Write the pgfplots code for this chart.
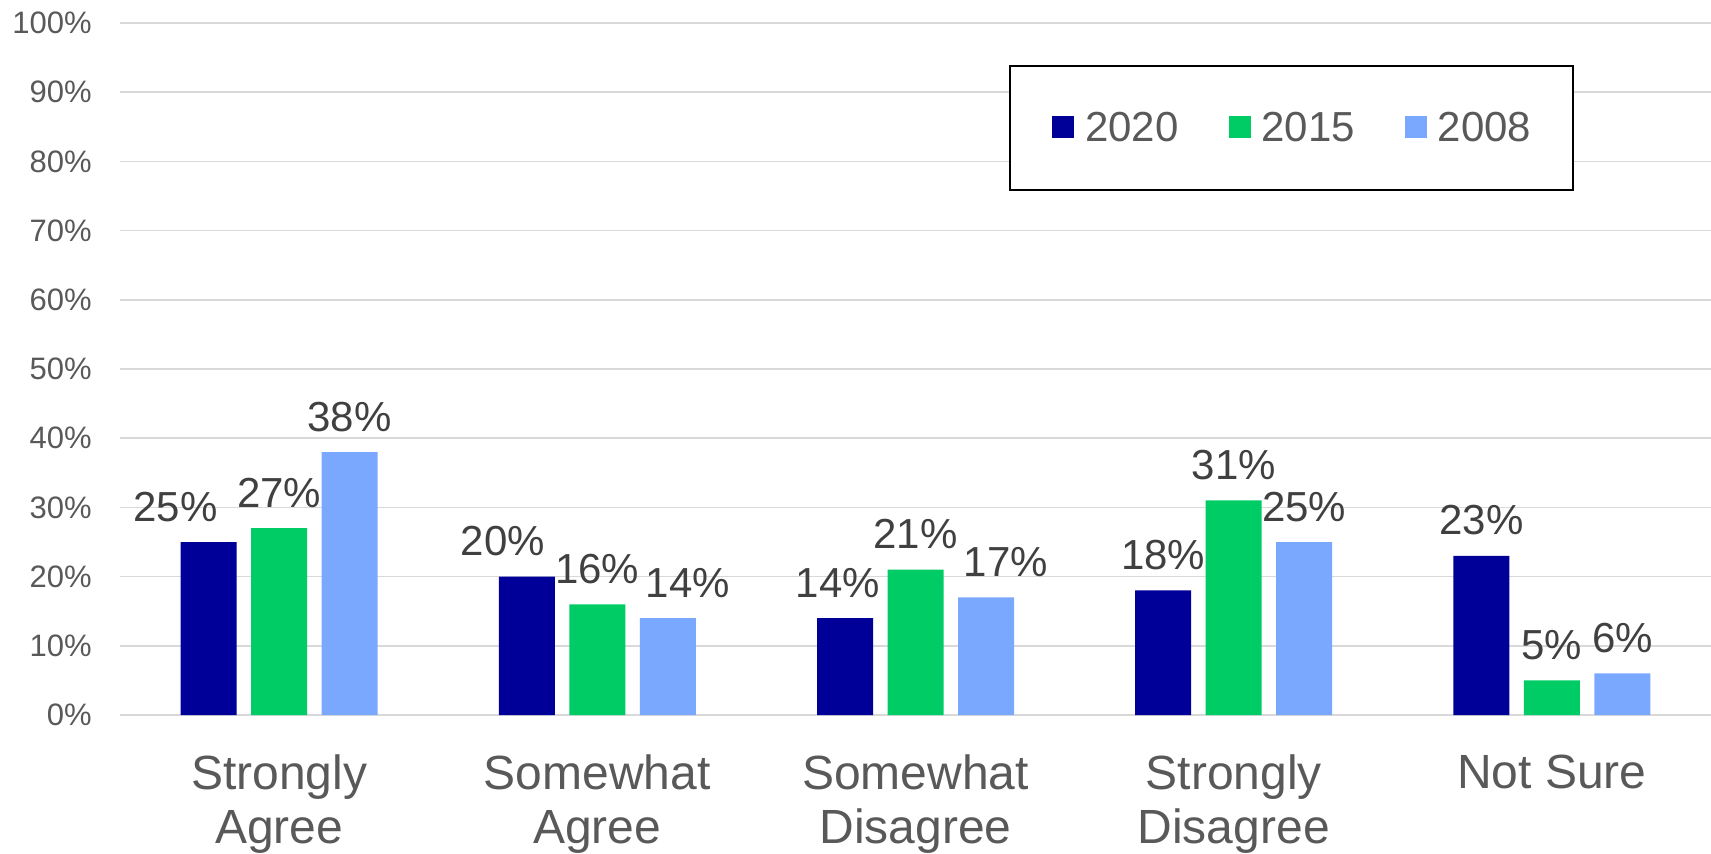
\documentclass[border=0pt]{standalone}
\usepackage{fontspec}
\setmainfont{Liberation Sans}
\usepackage{pgfplots}
\usepackage{pgfplotstable}
\pgfplotsset{compat=1.18}
\definecolor{c2020}{HTML}{000099}
\definecolor{c2015}{HTML}{00CC66}
\definecolor{c2008}{HTML}{7AA8FF}
\definecolor{tickgray}{HTML}{595959}
\definecolor{lblgray}{HTML}{404040}
\definecolor{gridgray}{HTML}{D9D9D9}
\pgfplotstableread{
x y2020 d2020 y2015 d2015 y2008 d2008
0 25 -16.5 27 0 38 0
1 20 -12 16 0 14 10
2 14 -3.5 21 0 17 10
3 18 0 31 0 25 0
4 23 0 5 0 6 0
}\data
\begin{document}
\begin{tikzpicture}
\begin{axis}[name=ax, scale only axis, width=795.5pt, height=346pt,
 xmin=-0.5, xmax=4.5, ymin=0, ymax=100,
 ybar=7.25pt, bar width=28pt,
 axis line style={draw=none},
 major tick length=0pt,
 ymajorgrids, grid style={gridgray, line width=0.75pt},
 ytick={0,10,...,100}, yticklabel={\pgfmathprintnumber{\tick}\%},
 xtick={0,...,4},
 xticklabels={{Strongly\\Agree},{Somewhat\\Agree},{Somewhat\\Disagree},{Strongly\\Disagree},{Not Sure}},
 /pgf/number format/assume math mode=true,
 yticklabel style={font=\fontsize{15.5}{18}\selectfont, text=tickgray, inner sep=0pt, xshift=-14pt},
 xticklabel style={font=\fontsize{24}{27}\selectfont, text=tickgray, align=center, inner sep=0pt, yshift=-19.8pt},
 nodes near coords={\pgfmathprintnumber{\pgfplotspointmeta}\%},
 every node near coord/.append style={font=\fontsize{21}{25}\selectfont, text=lblgray, anchor=base, yshift=10.5pt, xshift=\dx pt},
 legend columns=3,
 legend image code/.code={\fill[#1] (0pt,-5pt) rectangle (11pt,6pt);},
 legend style={at={(rel axis cs:0.5588,0.9386)}, anchor=north west, draw=black, line width=1pt,
   inner xsep=21pt, inner ysep=22.7pt, font=\fontsize{21}{25}\selectfont,
   nodes={inner sep=0pt, text=tickgray},
   /tikz/every odd column/.append style={column sep=5.5pt},
   /tikz/every even column/.append style={column sep=25pt}},
]
\addplot[fill=c2020, draw=none, visualization depends on={\thisrow{d2020}\as\dx}] table[x=x,y=y2020]{\data};
\addplot[fill=c2015, draw=none, visualization depends on={\thisrow{d2015}\as\dx}] table[x=x,y=y2015]{\data};
\addplot[fill=c2008, draw=none, visualization depends on={\thisrow{d2008}\as\dx}] table[x=x,y=y2008]{\data};
\legend{2020,2015,2008}
\end{axis}
\pgfresetboundingbox
\path ([shift={(-60pt,-69pt)}]ax.south west) rectangle ([shift={(0pt,11.5pt)}]ax.north east);
\end{tikzpicture}
\end{document}
